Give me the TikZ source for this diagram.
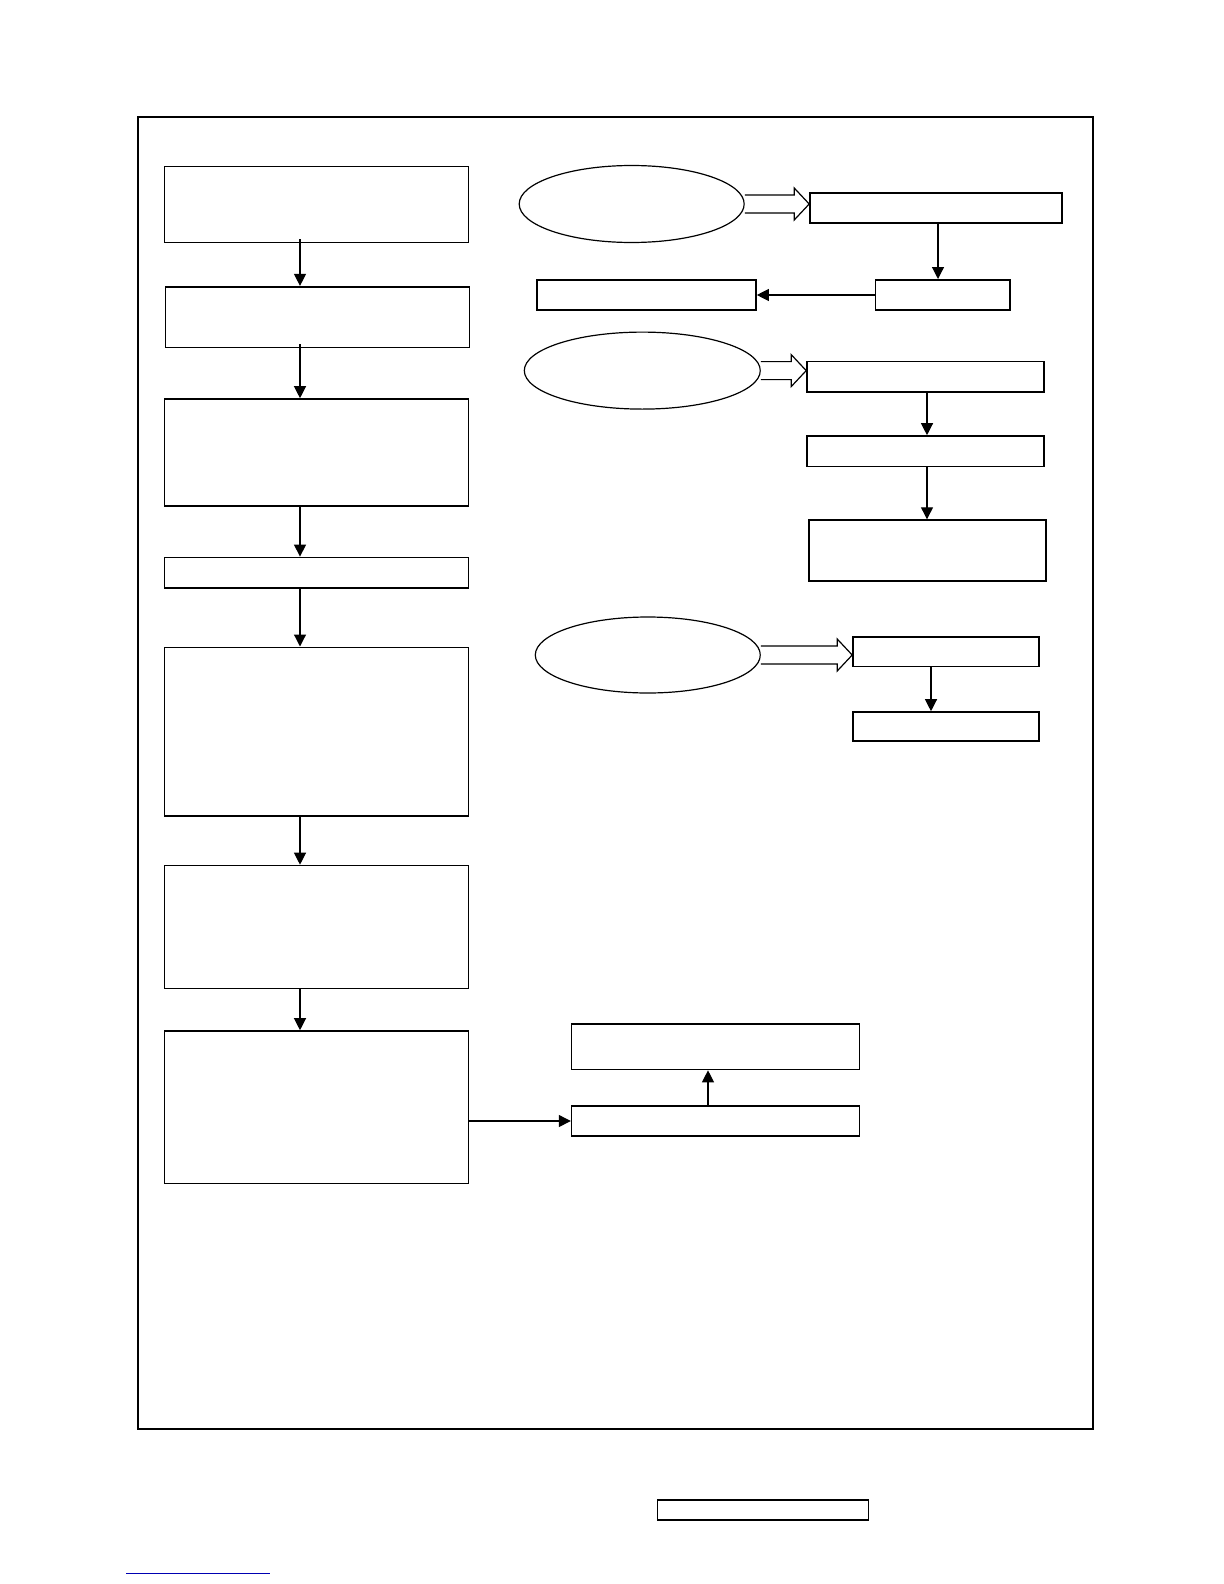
\documentclass[tikz,border=0pt]{standalone}
\usepackage{tikz}
\usetikzlibrary{arrows.meta,positioning,shapes.geometric,calc}

\begin{document}
\begin{tikzpicture}[x=0.5pt, y=-0.5pt, >={Triangle[length=6pt,width=6pt]},
		box/.style={draw, line width=0.8pt, inner sep=0pt},
		oval/.style={draw, ellipse, line width=0.6pt, inner sep=0pt},
		conn/.style={->, line width=0.6pt},
		fatarrow/.style={draw, line width=0.6pt, fill=white}]
			\useasboundingbox (0,0) rectangle (1224,1584);

			% --- Marco exterior ---
			\draw[line width=1.4pt] (138,117) rectangle (1093,1429);

			% --- Columna izquierda ---
			\node[box, minimum width=152pt, minimum height=38pt]    (b1) at (316.6,204.5) {};
			\node[box, minimum width=152pt, minimum height=30.3pt]  (b2) at (317.6,317) {};
			\node[box, minimum width=152pt, minimum height=53.5pt]  (b3) at (316.6,452.5) {};
			\node[box, minimum width=152pt, minimum height=15.2pt]  (b4) at (316.6,572.6) {};
			\node[box, minimum width=152pt, minimum height=84.3pt]  (b5) at (316.6,731.6) {};
			\node[box, minimum width=152pt, minimum height=61.5pt]  (b6) at (316.6,927) {};
			\node[box, minimum width=152pt, minimum height=76.3pt]  (b7) at (316.6,1107.3) {};

			\coordinate (ax) at (300,0);
			\draw[conn] ([yshift=2pt]b1.south -| ax) -- (b2.north -| ax);
			\draw[conn] ([yshift=2pt]b2.south -| ax) -- (b3.north -| ax);
			\foreach \a/\b in {b3/b4, b4/b5, b5/b6, b6/b7}{
					\draw[conn] (\a.south -| ax) -- (\b.north -| ax);
				}

			% --- Rama 1 ---
			\node[oval, minimum width=112.5pt, minimum height=38.5pt] (e1) at (631.7,204) {};
			\node[box, minimum width=126pt, minimum height=15pt]     (r1) at (936,208) {};
			\node[box, minimum width=67.2pt, minimum height=15.2pt]  (r2) at (942.8,295) {};
			\node[box, minimum width=109.5pt, minimum height=15.2pt] (r3) at (646.5,295) {};
			\coordinate (rx1) at (938,0);
			\draw[conn] ([yshift=1pt]r1.south -| rx1) -- (r2.north -| rx1);
			\draw[conn] (r2.west) -- (r3.east);

			% --- Rama 2 ---
			\node[oval, minimum width=118pt, minimum height=38.5pt]  (e2) at (642.3,370.6) {};
			\node[box, minimum width=118.5pt, minimum height=15.2pt] (r4) at (925.5,376.8) {};
			\node[box, minimum width=118.5pt, minimum height=15.3pt] (r5) at (925.5,451.3) {};
			\node[box, minimum width=118.5pt, minimum height=30.3pt] (r6) at (927.5,550.4) {};
			\coordinate (rx2) at (927,0);
			\draw[conn] (r4.south -| rx2) -- (r5.north -| rx2);
			\draw[conn] (r5.south -| rx2) -- (r6.north -| rx2);

			% --- Rama 3 ---
			\node[oval, minimum width=112.5pt, minimum height=38pt] (e3) at (647.8,655) {};
			\node[box, minimum width=93pt, minimum height=14.8pt]  (r7) at (946,651.8) {};
			\node[box, minimum width=93pt, minimum height=14.5pt]  (r8) at (946,726.5) {};
			\coordinate (rx3) at (931,0);
			\draw[conn] (r7.south -| rx3) -- (r8.north -| rx3);

			% Flechas gruesas
			\foreach \e/\r in {e1/r1, e2/r4, e3/r7}{
					\draw[fatarrow] let \p1=(\e.east), \p2=(\r.west) in
					(\x1,\y1+4.5pt) -- (\x2-7.5pt,\y1+4.5pt) -- (\x2-7.5pt,\y1+8pt) -- (\x2,\y1)
					-- (\x2-7.5pt,\y1-8pt) -- (\x2-7.5pt,\y1-4.5pt) -- (\x1,\y1-4.5pt);
				}

			% --- Parte inferior ---
			\node[box, minimum width=143.9pt, minimum height=22.7pt] (q1) at (715.5,1046.8) {};
			\node[box, minimum width=143.9pt, minimum height=15pt]   (q2) at (715.5,1121) {};
			\coordinate (qx) at (708,0);
			\draw[conn] (q2.north -| qx) -- (q1.south -| qx);
			\draw[conn] (b7.east |- q2.west) -- (q2.west);

			% --- Pie de página ---
			\node[draw, line width=0.6pt, inner sep=0pt, minimum width=105.5pt, minimum height=10pt] (pie) at (763,1510) {};
			\draw[blue!70!black, line width=0.8pt] (126,1573.5) -- (270,1573.5);
		\end{tikzpicture}
\end{document}
